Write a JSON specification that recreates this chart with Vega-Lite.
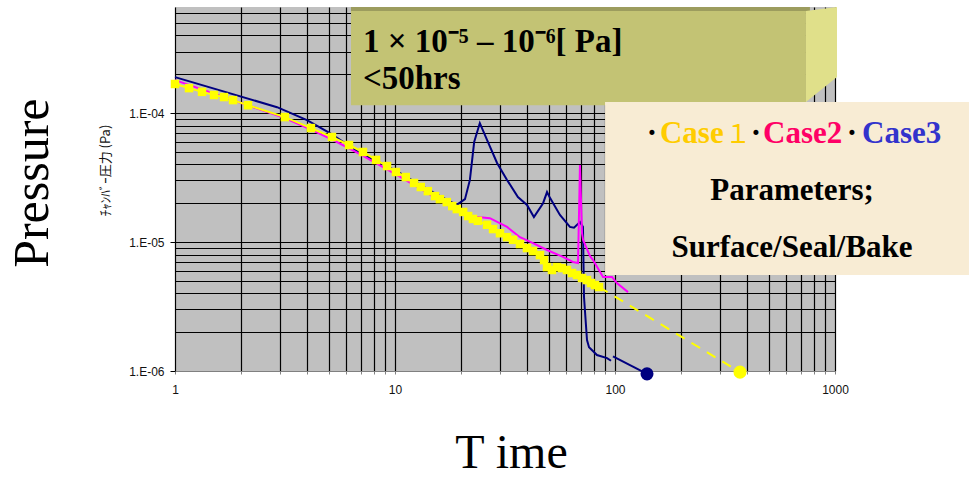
{
  "$schema": "https://vega.github.io/schema/vega-lite/v6.json",
  "width": 660,
  "height": 364,
  "autosize": {"type": "none"},
  "padding": {"left": 175, "top": 7, "right": 134, "bottom": 107},
  "background": "#ffffff",
  "config": {"view": {"fill": "#c0c0c0", "stroke": null}},
  "datasets": {
    "series": [
      {"case": "Case3", "seg": "a", "t": 1, "p": 0.00019},
      {"case": "Case3", "seg": "a", "t": 2.91, "p": 0.000111},
      {"case": "Case3", "seg": "a", "t": 3.98, "p": 0.000088},
      {"case": "Case3", "seg": "a", "t": 5.06, "p": 0.00007},
      {"case": "Case3", "seg": "a", "t": 6.93, "p": 0.000049},
      {"case": "Case3", "seg": "a", "t": 10, "p": 0.0000361},
      {"case": "Case3", "seg": "a", "t": 13, "p": 0.0000277},
      {"case": "Case3", "seg": "a", "t": 16, "p": 0.0000227},
      {"case": "Case3", "seg": "a", "t": 19.1, "p": 0.0000194},
      {"case": "Case3", "seg": "a", "t": 20.8, "p": 0.0000215},
      {"case": "Case3", "seg": "a", "t": 21.9, "p": 0.0000303},
      {"case": "Case3", "seg": "a", "t": 22.9, "p": 0.0000596},
      {"case": "Case3", "seg": "a", "t": 24.3, "p": 0.0000836},
      {"case": "Case3", "seg": "a", "t": 26.2, "p": 0.000062},
      {"case": "Case3", "seg": "a", "t": 29.1, "p": 0.000041},
      {"case": "Case3", "seg": "a", "t": 32.3, "p": 0.0000303},
      {"case": "Case3", "seg": "a", "t": 36.2, "p": 0.0000223},
      {"case": "Case3", "seg": "a", "t": 39.8, "p": 0.0000194},
      {"case": "Case3", "seg": "a", "t": 42.8, "p": 0.0000156},
      {"case": "Case3", "seg": "a", "t": 47.1, "p": 0.00002},
      {"case": "Case3", "seg": "a", "t": 49.1, "p": 0.0000244},
      {"case": "Case3", "seg": "a", "t": 50.7, "p": 0.0000219},
      {"case": "Case3", "seg": "a", "t": 56.2, "p": 0.0000162},
      {"case": "Case3", "seg": "a", "t": 62.4, "p": 0.0000131},
      {"case": "Case3", "seg": "a", "t": 65.1, "p": 0.0000129},
      {"case": "Case3", "seg": "a", "t": 69.3, "p": 0.0000143},
      {"case": "Case3", "seg": "a", "t": 71.5, "p": 0.0000131},
      {"case": "Case3", "seg": "a", "t": 72.3, "p": 0.00000375},
      {"case": "Case3", "seg": "a", "t": 74.6, "p": 0.00000174},
      {"case": "Case3", "seg": "a", "t": 76.2, "p": 0.00000153},
      {"case": "Case3", "seg": "a", "t": 82.8, "p": 0.00000133},
      {"case": "Case3", "seg": "a", "t": 92, "p": 0.00000126},
      {"case": "Case3", "seg": "a", "t": 95.9, "p": 0.0000012},
      {"case": "Case3", "seg": "b", "t": 97.9, "p": 0.0000013},
      {"case": "Case3", "seg": "b", "t": 139.8, "p": 0.00000095},
      {"case": "Case2", "seg": "a", "t": 1, "p": 0.00018},
      {"case": "Case2", "seg": "a", "t": 3.16, "p": 0.0000914},
      {"case": "Case2", "seg": "a", "t": 4.2, "p": 0.0000738},
      {"case": "Case2", "seg": "a", "t": 5.23, "p": 0.0000618},
      {"case": "Case2", "seg": "a", "t": 6.93, "p": 0.000048},
      {"case": "Case2", "seg": "a", "t": 10, "p": 0.0000337},
      {"case": "Case2", "seg": "a", "t": 13.1, "p": 0.0000258},
      {"case": "Case2", "seg": "a", "t": 16, "p": 0.0000208},
      {"case": "Case2", "seg": "a", "t": 19.1, "p": 0.0000177},
      {"case": "Case2", "seg": "a", "t": 21.5, "p": 0.0000162},
      {"case": "Case2", "seg": "a", "t": 23.8, "p": 0.0000156},
      {"case": "Case2", "seg": "a", "t": 27, "p": 0.0000153},
      {"case": "Case2", "seg": "a", "t": 32.3, "p": 0.0000131},
      {"case": "Case2", "seg": "a", "t": 37, "p": 0.0000109},
      {"case": "Case2", "seg": "a", "t": 42.4, "p": 0.0000098},
      {"case": "Case2", "seg": "a", "t": 49.1, "p": 0.00000867},
      {"case": "Case2", "seg": "a", "t": 58, "p": 0.00000766},
      {"case": "Case2", "seg": "a", "t": 64.4, "p": 0.000007},
      {"case": "Case2", "seg": "a", "t": 67.9, "p": 0.00000687},
      {"case": "Case2", "seg": "a", "t": 69.3, "p": 0.0000395},
      {"case": "Case2", "seg": "a", "t": 70.8, "p": 0.0000117},
      {"case": "Case2", "seg": "a", "t": 71.6, "p": 0.0000104},
      {"case": "Case2", "seg": "a", "t": 76.9, "p": 0.0000078},
      {"case": "Case2", "seg": "a", "t": 79.5, "p": 0.00000724},
      {"case": "Case2", "seg": "a", "t": 88.2, "p": 0.00000536},
      {"case": "Case2", "seg": "a", "t": 96.9, "p": 0.00000536},
      {"case": "Case2", "seg": "a", "t": 102, "p": 0.00000481},
      {"case": "Case2", "seg": "a", "t": 114.6, "p": 0.00000409},
      {"case": "Case1", "seg": "a", "t": 1, "p": 0.000168},
      {"case": "Case1", "seg": "a", "t": 1.158, "p": 0.000156},
      {"case": "Case1", "seg": "a", "t": 1.327, "p": 0.000146},
      {"case": "Case1", "seg": "a", "t": 1.504, "p": 0.000138},
      {"case": "Case1", "seg": "a", "t": 1.67, "p": 0.000133},
      {"case": "Case1", "seg": "a", "t": 1.835, "p": 0.000126},
      {"case": "Case1", "seg": "a", "t": 2.147, "p": 0.000115},
      {"case": "Case1", "seg": "a", "t": 3.16, "p": 0.000093},
      {"case": "Case1", "seg": "a", "t": 4.15, "p": 0.0000765},
      {"case": "Case1", "seg": "a", "t": 5.17, "p": 0.0000652},
      {"case": "Case1", "seg": "a", "t": 6.18, "p": 0.0000565},
      {"case": "Case1", "seg": "a", "t": 7.15, "p": 0.0000499},
      {"case": "Case1", "seg": "a", "t": 8.2, "p": 0.0000433},
      {"case": "Case1", "seg": "a", "t": 9.2, "p": 0.0000388},
      {"case": "Case1", "seg": "a", "t": 10.1, "p": 0.0000349},
      {"case": "Case1", "seg": "a", "t": 11.2, "p": 0.0000319},
      {"case": "Case1", "seg": "a", "t": 12.2, "p": 0.0000287},
      {"case": "Case1", "seg": "a", "t": 13.1, "p": 0.0000267},
      {"case": "Case1", "seg": "a", "t": 14.1, "p": 0.0000248},
      {"case": "Case1", "seg": "a", "t": 15.2, "p": 0.0000227},
      {"case": "Case1", "seg": "a", "t": 16, "p": 0.0000215},
      {"case": "Case1", "seg": "a", "t": 17.2, "p": 0.0000204},
      {"case": "Case1", "seg": "a", "t": 18.2, "p": 0.000019},
      {"case": "Case1", "seg": "a", "t": 19.1, "p": 0.000018},
      {"case": "Case1", "seg": "a", "t": 20.4, "p": 0.0000171},
      {"case": "Case1", "seg": "a", "t": 21.5, "p": 0.0000159},
      {"case": "Case1", "seg": "a", "t": 22.6, "p": 0.0000151},
      {"case": "Case1", "seg": "a", "t": 23.8, "p": 0.0000146},
      {"case": "Case1", "seg": "a", "t": 26.2, "p": 0.0000136},
      {"case": "Case1", "seg": "a", "t": 27.9, "p": 0.0000126},
      {"case": "Case1", "seg": "a", "t": 30, "p": 0.0000117},
      {"case": "Case1", "seg": "a", "t": 32.3, "p": 0.0000109},
      {"case": "Case1", "seg": "a", "t": 34.4, "p": 0.0000104},
      {"case": "Case1", "seg": "a", "t": 37, "p": 0.00000965},
      {"case": "Case1", "seg": "a", "t": 39.8, "p": 0.00000898},
      {"case": "Case1", "seg": "a", "t": 42.4, "p": 0.00000851},
      {"case": "Case1", "seg": "a", "t": 45.6, "p": 0.00000792},
      {"case": "Case1", "seg": "a", "t": 47.6, "p": 0.00000724},
      {"case": "Case1", "seg": "a", "t": 49.1, "p": 0.00000639},
      {"case": "Case1", "seg": "a", "t": 51.7, "p": 0.00000607},
      {"case": "Case1", "seg": "a", "t": 54.5, "p": 0.00000639},
      {"case": "Case1", "seg": "a", "t": 57.4, "p": 0.00000628},
      {"case": "Case1", "seg": "a", "t": 60.5, "p": 0.00000607},
      {"case": "Case1", "seg": "a", "t": 63.8, "p": 0.00000575},
      {"case": "Case1", "seg": "a", "t": 67.2, "p": 0.00000555},
      {"case": "Case1", "seg": "a", "t": 70.8, "p": 0.00000526},
      {"case": "Case1", "seg": "a", "t": 74.6, "p": 0.00000507},
      {"case": "Case1", "seg": "a", "t": 77.8, "p": 0.00000481},
      {"case": "Case1", "seg": "a", "t": 81.1, "p": 0.00000464},
      {"case": "Case1", "seg": "a", "t": 84.6, "p": 0.00000448}
    ]
  },
  "encoding": {
    "x": {
      "field": "t",
      "type": "quantitative",
      "scale": {"type": "log", "domain": [1, 1000], "nice": false},
      "axis": {
        "title": "T ime",
        "titleFont": "Liberation Serif",
        "titleFontSize": 48,
        "titleFontWeight": "normal",
        "titleColor": "#000000",
        "titleX": 336,
        "titleY": 96,
        "titleAlign": "center",
        "titleBaseline": "alphabetic",
        "values": [1, 2, 3, 4, 5, 6, 7, 8, 9, 10, 20, 30, 40, 50, 60, 70, 80, 90, 100, 200, 300, 400, 500, 600, 700, 800, 900, 1000],
        "grid": true,
        "gridColor": "#000000",
        "gridOpacity": 1,
        "gridWidth": 1.2,
        "domain": true,
        "domainColor": "#808080",
        "ticks": true,
        "tickSize": 3,
        "tickColor": "#808080",
        "labelExpr": "datum.value == 1 ? '1' : datum.value == 10 ? '10' : datum.value == 100 ? '100' : datum.value == 1000 ? '1000' : ''",
        "labelFont": "Liberation Sans",
        "labelFontSize": 12,
        "labelColor": "#111111",
        "labelPadding": 10,
        "labelOverlap": false,
        "labelFlush": false,
        "labelBound": false
      }
    },
    "y": {
      "field": "p",
      "type": "quantitative",
      "scale": {"type": "log", "domain": [0.000001, 0.000664], "nice": false},
      "axis": {
        "title": "ﾁｬﾝﾊﾞｰ圧力   (Pa)",
        "titleFont": "Noto Sans CJK JP",
        "titleFontSize": 13,
        "titleFontWeight": "normal",
        "titleColor": "#111111",
        "titleX": -63,
        "titleY": 163,
        "titleAngle": 270,
        "titleAlign": "center",
        "titleBaseline": "bottom",
        "values": [0.000001, 0.000002, 0.000003, 0.000004, 0.000005, 0.000006, 0.000007, 0.000008, 0.000009, 0.00001, 0.00002, 0.00003, 0.00004, 0.00005, 0.00006, 0.00007, 0.00008, 0.00009, 0.0001, 0.0002, 0.0003, 0.0004, 0.0005, 0.0006],
        "grid": true,
        "gridColor": {"condition": {"test": "datum.value == 0.000001", "value": "#808080"}, "value": "#000000"},
        "gridOpacity": 1,
        "gridWidth": 1.2,
        "domain": false,
        "ticks": true,
        "tickSize": 5,
        "tickColor": "#000000",
        "tickOpacity": {"condition": {"test": "datum.value == 0.000001 || datum.value == 0.00001 || datum.value == 0.0001", "value": 1}, "value": 0},
        "labelExpr": "datum.value == 0.000001 ? '1.E-06' : datum.value == 0.00001 ? '1.E-05' : datum.value == 0.0001 ? '1.E-04' : ''",
        "labelFont": "Liberation Sans",
        "labelFontSize": 12,
        "labelColor": "#111111",
        "labelPadding": 6,
        "labelOverlap": false,
        "labelBound": false
      }
    }
  },
  "layer": [
    {
      "data": {"name": "series"},
      "transform": [{"filter": "datum.case != 'Case1'"}],
      "mark": {"type": "line", "strokeWidth": 2, "clip": false},
      "encoding": {
        "color": {"field": "case", "type": "nominal", "scale": {"domain": ["Case1", "Case2", "Case3"], "range": ["#ffff00", "#ff00ff", "#000080"]}, "legend": null},
        "detail": {"field": "seg", "type": "nominal"}
      }
    },
    {
      "data": {"name": "series"},
      "transform": [{"filter": "datum.case == 'Case1'"}],
      "mark": {"type": "line", "strokeWidth": 2, "color": "#ffff00", "clip": false},
      "encoding": {}
    },
    {
      "data": {"name": "series"},
      "transform": [{"filter": "datum.case == 'Case1'"}],
      "mark": {"type": "point", "shape": "square", "filled": true, "size": 72, "color": "#ffff00", "opacity": 1, "strokeWidth": 0},
      "encoding": {}
    },
    {
      "data": {"values": [{"case": "Case1", "t": 84.6, "p": 0.00000448}, {"case": "Case1", "t": 370, "p": 0.00000098}]},
      "mark": {"type": "line", "strokeWidth": 2, "color": "#ffff00", "strokeDash": [10, 8], "clip": false},
      "encoding": {}
    },
    {
      "data": {"values": [{"case": "Case3", "t": 139.8, "p": 0.00000095}, {"case": "Case1", "t": 370, "p": 0.00000098}]},
      "mark": {"type": "circle", "size": 170, "opacity": 1, "clip": false},
      "encoding": {
        "color": {"field": "case", "type": "nominal", "scale": {"domain": ["Case1", "Case2", "Case3"], "range": ["#ffff00", "#ff00ff", "#000080"]}, "legend": null}
      }
    },
    {
      "data": {"values": [{"t": 6.31, "t2": 738, "p": 0.000618, "p2": 0.000115}]},
      "mark": {"type": "rect", "color": "#c3c374", "clip": false},
      "encoding": {"x2": {"field": "t2"}, "y2": {"field": "p2"}}
    },
    {
      "data": {"values": [{"t": 6.31, "t2": 769, "p": 0.000664, "p2": 0.000618}]},
      "mark": {"type": "rect", "color": "#9c9c5e", "clip": false},
      "encoding": {"x2": {"field": "t2"}, "y2": {"field": "p2"}}
    },
    {
      "data": {"values": [{"t": 738, "p": 0.000122, "p2": 0.000618}, {"t": 1021, "p": 0.00019, "p2": 0.000664}]},
      "mark": {"type": "area", "color": "#e0e08a", "opacity": 1, "clip": false},
      "encoding": {"y2": {"field": "p2"}}
    },
    {
      "data": {"values": [{"t": 90.1, "t2": 4064, "p": 0.000122, "p2": 0.00000555}]},
      "mark": {"type": "rect", "color": "#f8ecd4", "clip": false},
      "encoding": {"x2": {"field": "t2"}, "y2": {"field": "p2"}}
    },
    {
      "data": {"values": [{"t": 7.15, "p": 0.0003, "txt": "1 × 10⁻⁵ – 10⁻⁶[ Pa]"}, {"t": 7.15, "p": 0.000153, "txt": "<50hrs"}]},
      "mark": {"type": "text", "align": "left", "baseline": "alphabetic", "font": "Liberation Serif", "fontWeight": "bold", "fontSize": 33, "color": "#000000", "clip": false},
      "encoding": {"text": {"field": "txt"}}
    },
    {
      "data": {"values": [{"t": 637.7, "p": 0.0000212, "txt": "Parameters;"}, {"t": 637.7, "p": 0.00000765, "txt": "Surface/Seal/Bake"}]},
      "mark": {"type": "text", "align": "center", "baseline": "alphabetic", "font": "Liberation Serif", "fontWeight": "bold", "fontSize": 31, "color": "#000000", "clip": false},
      "encoding": {"text": {"field": "txt"}}
    },
    {
      "data": {"values": [{"t": 147.3, "p": 0.0000585}, {"t": 437.5, "p": 0.0000585}, {"t": 1194.5, "p": 0.0000585}]},
      "mark": {"type": "text", "text": "·", "align": "center", "baseline": "alphabetic", "font": "Liberation Serif", "fontWeight": "bold", "fontSize": 31, "color": "#000000", "clip": false},
      "encoding": {}
    },
    {
      "data": {"values": [{"t": 160.1, "p": 0.0000585}]},
      "mark": {"type": "text", "text": "Case", "align": "left", "baseline": "alphabetic", "font": "Liberation Serif", "fontWeight": "bold", "fontSize": 31, "color": "#ffcc00", "clip": false},
      "encoding": {}
    },
    {
      "data": {"values": [{"t": 362.3, "p": 0.0000585}]},
      "mark": {"type": "text", "text": "１", "align": "center", "baseline": "alphabetic", "font": "Noto Sans CJK JP", "fontSize": 26, "color": "#ffcc00", "clip": false},
      "encoding": {}
    },
    {
      "data": {"values": [{"t": 470.8, "p": 0.0000585}]},
      "mark": {"type": "text", "text": "Case2", "align": "left", "baseline": "alphabetic", "font": "Liberation Serif", "fontWeight": "bold", "fontSize": 31, "color": "#ff0066", "clip": false},
      "encoding": {}
    },
    {
      "data": {"values": [{"t": 1327, "p": 0.0000585}]},
      "mark": {"type": "text", "text": "Case3", "align": "left", "baseline": "alphabetic", "font": "Liberation Serif", "fontWeight": "bold", "fontSize": 31, "color": "#3333cc", "clip": false},
      "encoding": {}
    },
    {
      "data": {"values": [{"t": 0.265, "p": 0.0000286}]},
      "mark": {"type": "text", "text": "Pressure", "angle": 270, "align": "center", "baseline": "alphabetic", "font": "Liberation Serif", "fontSize": 50, "color": "#000000", "clip": false},
      "encoding": {}
    }
  ]
}
